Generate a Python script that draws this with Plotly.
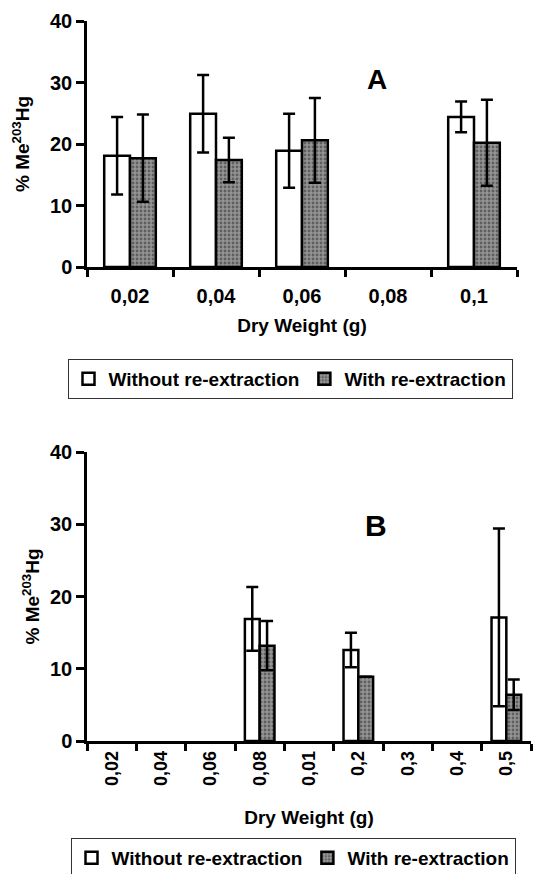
import plotly.graph_objects as go

# The page body has an 8px default margin, so the figure is 8px smaller and
# reference pixel positions are shifted by 8px.
OFF = 8
W, H = 552 - OFF, 874 - OFF

# Panel A data
cats_a = ["0,02", "0,04", "0,06", "0,08", "0,1"]
without_a = [18.1, 24.9, 18.9, None, 24.4]
without_a_err = [6.3, 6.3, 6.0, None, 2.5]
with_a = [17.7, 17.4, 20.6, None, 20.2]
with_a_err = [7.1, 3.6, 6.9, None, 7.0]

# Panel B data
cats_b = ["0,02", "0,04", "0,06", "0,08", "0,01", "0,2", "0,3", "0,4", "0,5"]
without_b = [None, None, None, 16.9, None, 12.6, None, None, 17.1]
without_b_err = [None, None, None, 4.4, None, 2.4, None, None, 12.3]
with_b = [None, None, None, 13.2, None, 8.9, None, None, 6.4]
with_b_err = [None, None, None, 3.4, None, 0.0, None, None, 2.1]

y_ticks = [0, 10, 20, 30, 40]


def px(x):
    return (x - OFF) / W


def py(y):
    return 1 - (y - OFF) / H


FONT = "Liberation Sans, Arial, sans-serif"
GRAY = "#959595"
GRAY_PATTERN = dict(shape=".", bgcolor=GRAY, fgcolor="#2a2a2a", size=4, solidity=0.4)
LINE = dict(color="black", width=2.5)


def err(arr):
    return dict(type="data", array=arr, color="black", thickness=2.5, width=6, visible=True)


fig = go.Figure()
fig.add_trace(go.Bar(x=cats_a, y=without_a, error_y=err(without_a_err), name="Without re-extraction",
                     marker=dict(color="white", line=LINE), xaxis="x", yaxis="y", legend="legend"))
fig.add_trace(go.Bar(x=cats_a, y=with_a, error_y=err(with_a_err), name="With re-extraction",
                     marker=dict(color=GRAY, pattern=GRAY_PATTERN, line=LINE), xaxis="x", yaxis="y", legend="legend"))
fig.add_trace(go.Bar(x=cats_b, y=without_b, error_y=err(without_b_err), name="Without re-extraction",
                     marker=dict(color="white", line=LINE), xaxis="x2", yaxis="y2", legend="legend2"))
fig.add_trace(go.Bar(x=cats_b, y=with_b, error_y=err(with_b_err), name="With re-extraction",
                     marker=dict(color=GRAY, pattern=GRAY_PATTERN, line=LINE), xaxis="x2", yaxis="y2", legend="legend2"))


def bold(size):
    return dict(family=FONT, size=size, color="black", weight="bold")


def xaxis(domain, anchor, cats, angle, ticksize, labelstandoff, standoff):
    return dict(domain=domain, anchor=anchor, type="category", categoryorder="array", categoryarray=cats,
                tickson="boundaries", ticks="outside", ticklen=7, tickwidth=2.5, tickcolor="black",
                showline=True, linewidth=2.5, linecolor="black", showgrid=False, zeroline=False,
                tickfont=bold(ticksize), tickangle=angle, fixedrange=True, automargin=False,
                ticklabelstandoff=labelstandoff,
                title=dict(text="Dry Weight (g)", font=bold(19), standoff=standoff))


def yaxis(domain, anchor, standoff):
    return dict(domain=domain, anchor=anchor, range=[0, 40], tickvals=y_ticks, ticks="outside",
                ticklen=8, tickwidth=2.5, tickcolor="black", showline=True, linewidth=2.5,
                linecolor="black", showgrid=False, zeroline=False, tickfont=bold(20),
                automargin=False, fixedrange=True,
                title=dict(text="% Me<sup>203</sup>Hg", font=bold(19), standoff=standoff))


legend_common = dict(orientation="h", xanchor="center", yanchor="top", bordercolor="#333333", borderwidth=1,
                     font=bold(19), bgcolor="white", itemwidth=30, tracegroupgap=0)

fig.update_layout(
    width=W, height=H, margin=dict(l=0, r=0, t=0, b=0, autoexpand=False),
    paper_bgcolor="white", plot_bgcolor="white",
    barmode="group", bargap=0.4, bargroupgap=0.0,
    font=dict(family=FONT, color="black"),
    xaxis=xaxis([px(87), px(517)], "y", cats_a, 0, 20, 9, 13),
    yaxis=yaxis([py(267), py(21)], "x", 16),
    xaxis2=xaxis([px(87), px(531)], "y2", cats_b, -90, 18, 0, 26),
    yaxis2=yaxis([py(741), py(452)], "x2", 6),
    legend=dict(x=px(290), y=py(359), **legend_common),
    legend2=dict(x=px(293), y=py(838), **legend_common),
    annotations=[
        dict(text="A", x=px(377), y=py(80), xref="paper", yref="paper", showarrow=False,
             xanchor="center", yanchor="middle", font=bold(28)),
        dict(text="B", x=px(376), y=py(525), xref="paper", yref="paper", showarrow=False,
             xanchor="center", yanchor="middle", font=bold(30)),
    ],
)

fig.write_html("out.html")
